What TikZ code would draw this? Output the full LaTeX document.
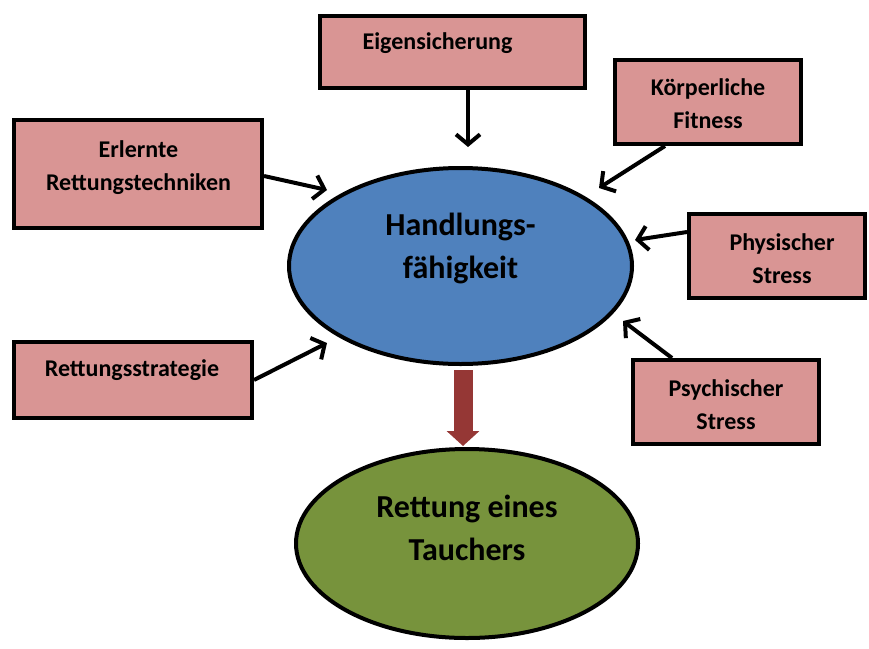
\documentclass[tikz,border=0pt]{standalone}
\usepackage{fontspec}
\setmainfont{Carlito}
\usetikzlibrary{arrows.meta,shapes.geometric}
\definecolor{boxpink}{HTML}{D99594}
\definecolor{ellblue}{HTML}{4F81BD}
\definecolor{ellgreen}{HTML}{77933C}
\definecolor{bigred}{HTML}{953735}
\tikzset{
  infobox/.style={draw=black,line width=4pt,fill=boxpink,rectangle,inner sep=0pt},
  boxtext/.style={font=\fontsize{24}{33}\selectfont\bfseries,align=center,inner sep=0pt},
  elltext/.style={font=\fontsize{32}{43}\selectfont\bfseries,align=center,inner sep=0pt},
  bigell/.style={draw=black,line width=4pt,ellipse,inner sep=0pt},
  arr/.style={line width=4pt,-{Straight Barb[length=10pt,width=24pt,line width=4pt]}},
}
\begin{document}
\begin{tikzpicture}[x=1pt,y=-1pt]
\useasboundingbox (0,0) rectangle (869,648);
% central ellipses
\node[bigell,fill=ellblue,minimum width=343pt,minimum height=196pt] (hf) at (460.5,266) {};
\node[elltext] (hftxt) at (460.5,248) {Handlungs-\\fähigkeit};
\node[bigell,fill=ellgreen,minimum width=342pt,minimum height=189pt] (rt) at (467,543.5) {};
\node[elltext] (rttxt) at (467,528) {Rettung eines\\Tauchers};
% boxes
\node[infobox,minimum width=265pt,minimum height=72pt] (eig) at (452.5,52) {};
\node[boxtext] (eigtxt) at (437.5,43) {Eigensicherung};
\node[infobox,minimum width=186pt,minimum height=84pt] (koe) at (708,102) {};
\node[boxtext] (koetxt) at (708,104) {Körperliche\\Fitness};
\node[infobox,minimum width=248pt,minimum height=108pt] (erl) at (138,174) {};
\node[boxtext] (erltxt) at (138.5,168) {Erlernte\\Rettungstechniken};
\node[infobox,minimum width=176pt,minimum height=84pt] (phy) at (777,256) {};
\node[boxtext] (phytxt) at (782,258.5) {Physischer\\Stress};
\node[infobox,minimum width=238pt,minimum height=76pt] (rst) at (133,380) {};
\node[boxtext] (rsttxt) at (132,370) {Rettungsstrategie};
\node[infobox,minimum width=186pt,minimum height=84pt] (psy) at (726,402) {};
\node[boxtext] (psytxt) at (726,405) {Psychischer\\Stress};
% arrow tips
\coordinate (teig) at (468,147);
\coordinate (terl) at (327,190);
\coordinate (tkoe) at (599,188);
\coordinate (tphy) at (635,240);
\coordinate (trst) at (327,343);
\coordinate (tpsy) at (623,321);
\draw[arr] (eig.south -| teig) -- (teig);
\draw[arr] ([yshift=-2pt]erl.east) -- (terl);
\draw[arr] ([xshift=-43pt]koe.south) -- (tkoe);
\draw[arr] ([yshift=24pt]phy.west) -- (tphy);
\draw[arr] (rst.east) -- (trst);
\draw[arr] ([xshift=-54pt]psy.north) -- (tpsy);
% big red arrow
\draw[bigred,line width=19pt,-{Triangle[length=15pt,width=32pt]},shorten <=4pt,shorten >=1pt] (hf.south -| 463,0) -- (rt.north -| 463,0);
\end{tikzpicture}
\end{document}
